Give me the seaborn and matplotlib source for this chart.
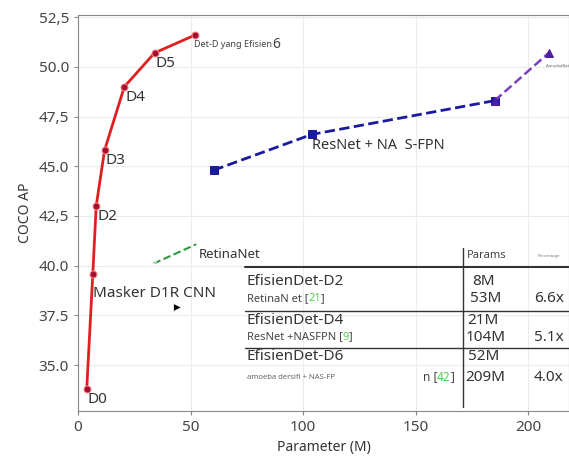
import matplotlib.pyplot as plt
import seaborn as sns
import pandas as pd

# EfficientDet curve (D0..D6)
effdet_params = [3.9, 6.6, 8.1, 11.8, 20.6, 34.0, 52.0]
effdet_ap = [33.8, 39.6, 43.0, 45.8, 49.0, 50.7, 51.6]
effdet_labels = ["D0", "", "D2", "D3", "D4", "D5", ""]

# ResNet + NAS-FPN
nasfpn_params = [60.2, 103.8, 185.0]
nasfpn_ap = [44.8, 46.6, 48.3]

# AmoebaNet + NAS-FPN (last segment)
amoeba_params = [185.0, 209.0]
amoeba_ap = [48.3, 50.7]

# RetinaNet
retina_params = [33.5, 53.0]
retina_ap = [40.1, 41.1]

# Mask R-CNN
mask_params = [43.8]
mask_ap = [37.9]

# table rows
table_main = ["EfisienDet-D2", "EfisienDet-D4", "EfisienDet-D6"]
table_main_params = ["8M", "21M", "52M"]
table_other = ["RetinaN et [", "ResNet +NASFPN [", "amoeba dersifi + NAS-FP"]
table_refs = ["21", "9", "42"]
table_other_params = ["53M", "104M", "209M"]
table_ratio = ["6.6x", "5.1x", "4.0x"]

sns.set_style("whitegrid", {"grid.color": "#ececec", "axes.edgecolor": "#888888"})
plt.rcParams["font.family"] = ["Noto Sans", "DejaVu Sans"]

fig = plt.figure(figsize=(5.69, 4.59), dpi=100)
ax = fig.add_axes([0.137, 0.105, 0.863, 0.862])

df_eff = pd.DataFrame({"params": effdet_params, "ap": effdet_ap})
sns.lineplot(data=df_eff, x="params", y="ap", color="#e02020", linewidth=2,
             marker="o", markersize=5, markerfacecolor="#a01030",
             markeredgecolor="#ff8080", ax=ax)
sns.lineplot(x=nasfpn_params, y=nasfpn_ap, color="#1a1aa0", linewidth=2,
             linestyle="--", marker="s", markersize=5.5, markeredgecolor="#1a1aa0", ax=ax)
sns.lineplot(x=amoeba_params, y=amoeba_ap, color="#7a40c0", linewidth=1.8,
             linestyle="--", marker="^", markersize=6, markeredgecolor="#5020a0",
             markerfacecolor="#5020a0", ax=ax)
sns.lineplot(x=retina_params, y=retina_ap, color="#2e9a40", linewidth=1.5,
             linestyle="--", marker="x", markersize=5, ax=ax)
sns.scatterplot(x=mask_params, y=mask_ap, color="black", marker=">", s=30, ax=ax)

for x, y, lab in zip(effdet_params, effdet_ap, effdet_labels):
    if lab:
        ax.text(x + 0.5, y - 0.15, lab, fontsize=11, color="#333333", va="top")

t = ax.text(effdet_params[-1] - 0.5, effdet_ap[-1] - 0.5, "Det-D yang Efisien",
            fontsize=6.5, color="#444444", va="center")
ax.annotate("6", xy=(1, 0.5), xycoords=t, va="center", fontsize=10, color="#444444")

ax.text(nasfpn_params[1], nasfpn_ap[1] - 0.55, "ResNet + NA  S-FPN",
        fontsize=10.5, color="#333333", va="center")
ax.text(retina_params[1] + 0.5, retina_ap[1] - 0.55, "RetinaNet",
        fontsize=9.5, color="#333333", va="center")
ax.text(6.5, 38.6, "Masker D1R CNN", fontsize=11, color="#333333", va="center")
ax.text(amoeba_params[1] - 1, amoeba_ap[1] - 0.65, "AmoebaNet", fontsize=3,
        color="#666666", va="center")

# table
ax.axhline(39.95, xmin=74 / 218, xmax=1, color="#333333", linewidth=1.5)
ax.axhline(37.73, xmin=74 / 218, xmax=1, color="#333333", linewidth=1)
ax.axhline(35.86, xmin=74 / 218, xmax=1, color="#333333", linewidth=1)
ax.axvline(171, ymin=(32.9 - 32.7) / 19.9, ymax=(40.9 - 32.7) / 19.9,
           color="#333333", linewidth=1)
ax.text(172.8, 40.5, "Params", fontsize=8, color="#444444", va="center")
ax.text(204, 40.5, "Percentage", fontsize=3, color="#777777", va="center")

main_y = [39.2, 37.22, 35.45]
other_y = [38.33, 36.41, 34.4]
for i in range(3):
    ax.text(75, main_y[i], table_main[i], fontsize=11, color="#333333", va="center")
    ax.text(180, main_y[i], table_main_params[i], fontsize=11, color="#333333",
            va="center", ha="center")
    if i < 2:
        t = ax.text(75, other_y[i], table_other[i], fontsize=8, color="#444444",
                    va="center")
    else:
        ax.text(75, other_y[i], table_other[i], fontsize=5.5, color="#666666",
                va="center")
        t = ax.text(153, other_y[i], "n [", fontsize=8.5, color="#444444",
                    va="center")
    t2 = ax.annotate(table_refs[i], xy=(1, 0.5), xycoords=t, va="center",
                     fontsize=t.get_fontsize(), color="#55cc55")
    ax.annotate("]", xy=(1, 0.5), xycoords=t2, va="center",
                fontsize=t.get_fontsize(), color="#444444")
    ax.text(181, other_y[i], table_other_params[i], fontsize=11, color="#333333",
            va="center", ha="center")
    ax.text(209, other_y[i], table_ratio[i], fontsize=11, color="#333333",
            va="center", ha="center")

ax.set_xlim(0, 218)
ax.set_ylim(32.7, 52.6)
ax.set_xticks([0, 50, 100, 150, 200])
ax.set_yticks([35.0, 37.5, 40.0, 42.5, 45.0, 47.5, 50.0, 52.5])
ax.set_yticklabels(["35.0", "37.5", "40.0", "42,5", "45.0", "47,5", "50.0", "52,5"])
ax.tick_params(axis="both", labelsize=11, colors="#444444", length=3)
ax.tick_params(axis="both", which="major", left=True, bottom=True, color="#888888")
ax.set_xlabel("Parameter (M)", fontsize=10, color="#333333")
ax.set_ylabel("COCO AP", fontsize=10, color="#333333")

fig.savefig("out.png", dpi=100)
